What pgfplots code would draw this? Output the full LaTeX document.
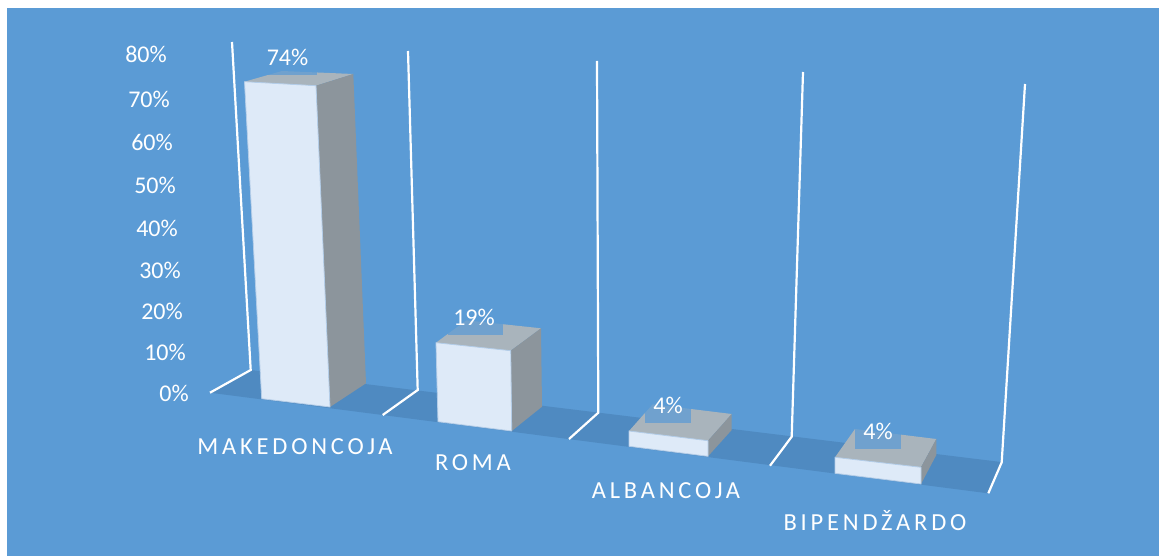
\documentclass[border=0pt]{standalone}
\usepackage{fontspec}
\setmainfont{Carlito}
\newfontfamily\catfont[LetterSpace=15.5]{Carlito}
\usepackage{pgfplots}
\pgfplotsset{compat=1.18}

\definecolor{panel}{HTML}{5B9BD5}
\definecolor{floorc}{HTML}{4F8AC1}
\definecolor{front}{HTML}{DEEAF8}
\definecolor{side}{HTML}{8C959C}
\definecolor{topc}{HTML}{A9B4BC}
\definecolor{edge}{HTML}{B4CDE8}

% axis is in reference pixels, y pointing down
\pgfplotsset{
    face/.style={draw=none, forget plot},
    wall/.style={draw=white, line width=2.2pt, forget plot},
    labelbox/.style={fill=panel, fill opacity=0.72, draw=none, forget plot},
}

\begin{document}
\begin{tikzpicture}
\begin{axis}[
    width=1159pt, height=556pt,
    scale only axis,
    xmin=0, xmax=1159,
    ymin=0, ymax=556,
    y dir=reverse,
    hide axis,
    clip=false,
    font=\fontsize{24}{27}\selectfont,
]
% page and panel
\addplot[face, fill=white] coordinates {(0,0) (1159,0) (1159,556) (0,556)} --cycle;
\addplot[face, fill=panel] coordinates {(7,8) (1159,8) (1159,556) (7,556)} --cycle;
% floor
\addplot[face, fill=floorc] coordinates {(210,392.7) (250.7,370) (1001,462) (988,493.3)} --cycle;
% walls
\addplot[wall] coordinates {(232,42) (250.7,370) (210,392.7)};
\addplot[wall] coordinates {(408,51) (417.7,390) (382.7,415)};
\addplot[wall] coordinates {(597,61) (598.3,412.7) (569,439)};
\addplot[wall] coordinates {(803,72) (791.7,436.7) (770,465.7)};
\addplot[wall] coordinates {(1025,84) (1001.7,462.3) (988.3,493.3)};

% MAKEDONCOJA 74%
\addplot[face, fill=topc] coordinates {(244.5,81.7) (316,85.7) (353.3,74) (282,71)} --cycle;
\addplot[face, fill=side] coordinates {(316,85.7) (353.3,74) (366,383.3) (330,407)} --cycle;
\addplot[face, fill=front, draw=edge, line width=0.8pt] coordinates {(244.5,81.7) (316,85.7) (330,407) (261.7,398.7)} --cycle;
\addplot[labelbox] coordinates {(262,64) (317,64) (317,75) (262,75)} --cycle;
% ROMA 19%
\addplot[face, fill=topc] coordinates {(436,342.7) (510.7,350.7) (541,328.3) (466.3,320.3)} --cycle;
\addplot[face, fill=side] coordinates {(510.7,350.7) (541,328.3) (542,406.7) (511.7,431)} --cycle;
\addplot[face, fill=front, draw=edge, line width=0.8pt] coordinates {(436,342.7) (510.7,350.7) (511.7,431) (438,421.7)} --cycle;
\addplot[labelbox] coordinates {(448,318) (503,318) (503,335) (448,335)} --cycle;
% ALBANCOJA 4%
\addplot[face, fill=topc] coordinates {(629,431) (708,440.7) (731.7,414) (652.7,404.3)} --cycle;
\addplot[face, fill=side] coordinates {(708,440.7) (731.7,414) (731.7,430) (708,456.3)} --cycle;
\addplot[face, fill=front, draw=edge, line width=0.8pt] coordinates {(629,431) (708,440.7) (708,456.3) (629,446.3)} --cycle;
\addplot[labelbox] coordinates {(645,395) (691,395) (691,423) (645,423)} --cycle;
% BIPENDZARDO 4%
\addplot[face, fill=topc] coordinates {(835,457.3) (921,467.3) (936.3,439) (855,429)} --cycle;
\addplot[face, fill=side] coordinates {(921,467.3) (936.3,439) (936.3,455) (921,484)} --cycle;
\addplot[face, fill=front, draw=edge, line width=0.8pt] coordinates {(835,457.3) (921,467.3) (921,484) (835,473.3)} --cycle;
\addplot[labelbox] coordinates {(855,420) (901,420) (901,449) (855,449)} --cycle;

% value labels
\addplot[only marks, mark=none, forget plot, point meta=explicit symbolic,
    nodes near coords, nodes near coords style={anchor=center, text=white, inner sep=0pt}]
    coordinates {(287.5,57)[74\%] (474,317)[19\%] (668,405)[4\%] (878,431)[4\%]};

% percent scale, right edges follow the slanted back wall
\addplot[only marks, mark=none, forget plot, point meta=explicit symbolic,
    nodes near coords, nodes near coords style={anchor=east, text=white, inner sep=0pt}]
    coordinates {(167,54)[80\%] (170,99)[70\%] (173,142)[60\%] (176,185)[50\%]
                 (178,228)[40\%] (181,270)[30\%] (183,311)[20\%] (186,352)[10\%] (189,393)[0\%]};

% categories
\addplot[only marks, mark=none, forget plot, point meta=explicit symbolic,
    nodes near coords, nodes near coords style={anchor=center, text=white, inner sep=0pt, font=\fontsize{24.5}{27}\catfont}]
    coordinates {(295,447)[MAKEDONCOJA] (473,463)[ROMA] (666,491)[ALBANCOJA] (875,521)[BIPENDŽARDO]};
\end{axis}
\end{tikzpicture}
\end{document}
